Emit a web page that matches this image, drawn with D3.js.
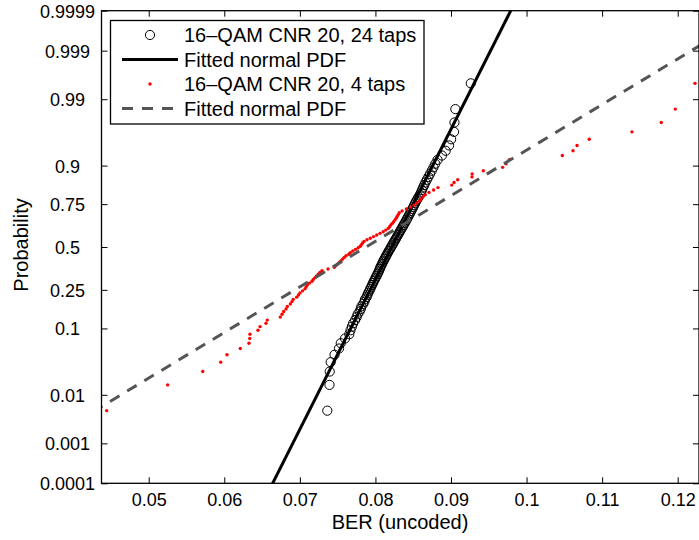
<!DOCTYPE html>
<html><head><meta charset="utf-8">
<script src="https://cdn.jsdelivr.net/npm/d3@7"></script>
<style>
html,body{margin:0;padding:0;background:#fff;}
svg text{font-family:"Liberation Sans",Arial,Helvetica,sans-serif;fill:#000;}
</style></head>
<body>
<svg id="chart" width="699" height="540"></svg>
<script>
// ---- data ----
// sorted BER samples, 16-QAM CNR 20, 24 taps
const ber24 = [0.07363,0.07392,0.07395,0.07408,0.07459,0.07518,0.07541,0.07598,0.07654,0.07670,
0.07688,0.07705,0.07731,0.07752,0.07765,0.07790,0.07806,0.07815,0.07838,0.07855,
0.07862,0.07884,0.07893,0.07905,0.07920,0.07931,0.07944,0.07955,0.07968,0.07978,
0.07992,0.08002,0.08016,0.08026,0.08038,0.08049,0.08058,0.08066,0.08077,0.08088,
0.08097,0.08108,0.08120,0.08132,0.08142,0.08154,0.08165,0.08177,0.08190,0.08202,
0.08214,0.08227,0.08238,0.08250,0.08262,0.08274,0.08286,0.08298,0.08311,0.08322,
0.08335,0.08347,0.08360,0.08372,0.08386,0.08398,0.08411,0.08423,0.08436,0.08449,
0.08461,0.08474,0.08487,0.08500,0.08512,0.08526,0.08540,0.08556,0.08572,0.08589,
0.08603,0.08616,0.08630,0.08645,0.08662,0.08680,0.08701,0.08722,0.08745,0.08768,
0.08792,0.08822,0.08880,0.08930,0.08975,0.09002,0.09040,0.09046,0.09058,0.09262];
// sorted BER samples, 16-QAM CNR 20, 4 taps
const ber4 = [0.04444,0.05251,0.05715,0.05953,0.06036,0.06212,0.06327,0.06337,0.06340,0.06446,
0.06473,0.06552,0.06569,0.06741,0.06764,0.06786,0.06817,0.06834,0.06874,0.06896,
0.06913,0.06958,0.06982,0.07002,0.07035,0.07068,0.07082,0.07099,0.07128,0.07161,
0.07178,0.07201,0.07220,0.07244,0.07267,0.07293,0.07373,0.07456,0.07478,0.07502,
0.07525,0.07545,0.07567,0.07588,0.07611,0.07648,0.07668,0.07701,0.07737,0.07772,
0.07800,0.07815,0.07829,0.07849,0.07889,0.07932,0.07975,0.08017,0.08061,0.08103,
0.08137,0.08169,0.08188,0.08204,0.08224,0.08241,0.08259,0.08274,0.08288,0.08302,
0.08316,0.08352,0.08409,0.08467,0.08511,0.08545,0.08583,0.08603,0.08630,0.08660,
0.08709,0.08770,0.08828,0.09010,0.09040,0.09089,0.09278,0.09280,0.09428,0.09684,
0.09728,0.09772,0.10473,0.10615,0.10668,0.10830,0.11395,0.11783,0.11968,0.12229];
// fitted normal distributions [mean, std]
const fit24 = [0.08215, 0.004235];
const fit4 = [0.07875, 0.013935];
const xTicks = [0.05,0.06,0.07,0.08,0.09,0.1,0.11,0.12];
const xTickLabels = ["0.05","0.06","0.07","0.08","0.09","0.1","0.11","0.12"];
const yTicks = [0.0001,0.001,0.01,0.1,0.25,0.5,0.75,0.9,0.99,0.999,0.9999];
const yTickLabels = ["0.0001","0.001","0.01","0.1","0.25","0.5","0.75","0.9","0.99","0.999","0.9999"];
const legendLabels = ["16\u2013QAM CNR 20, 24 taps","Fitted normal PDF","16\u2013QAM CNR 20, 4 taps","Fitted normal PDF"];
const xLabel = "BER (uncoded)", yLabel = "Probability";

// inverse normal CDF (probability-paper transform)
function probit(p){
  const a=[-3.969683028665376e+01,2.209460984245205e+02,-2.759285104469687e+02,1.383577518672690e+02,-3.066479806614716e+01,2.506628277459239e+00];
  const b=[-5.447609879822406e+01,1.615858368580409e+02,-1.556989798598866e+02,6.680131188771972e+01,-1.328068155288572e+01];
  const c=[-7.784894002430293e-03,-3.223964580411365e-01,-2.400758277161838e+00,-2.549732539343734e+00,4.374664141464968e+00,2.938163982698783e+00];
  const d=[7.784695709041462e-03,3.224671290700398e-01,2.445134137142996e+00,3.754408661907416e+00];
  const pl=0.02425, ph=1-pl; let q,r;
  if(p<pl){q=Math.sqrt(-2*Math.log(p));return (((((c[0]*q+c[1])*q+c[2])*q+c[3])*q+c[4])*q+c[5])/((((d[0]*q+d[1])*q+d[2])*q+d[3])*q+1);}
  if(p>ph){q=Math.sqrt(-2*Math.log(1-p));return -(((((c[0]*q+c[1])*q+c[2])*q+c[3])*q+c[4])*q+c[5])/((((d[0]*q+d[1])*q+d[2])*q+d[3])*q+1);}
  q=p-0.5;r=q*q;return (((((a[0]*r+a[1])*r+a[2])*r+a[3])*r+a[4])*r+a[5])*q/(((((b[0]*r+b[1])*r+b[2])*r+b[3])*r+b[4])*r+1);
}

// ---- layout ----
const L=101.5, R=699, T=10.7, B=483.3;
const svg = d3.select("#chart");
const x = d3.scaleLinear().domain([0.04375, 0.12282]).range([L, R]);
const zMin = probit(0.0001), zMax = probit(0.9999);
const yz = d3.scaleLinear().domain([zMin, zMax]).range([B, T]);
const y = p => yz(probit(p));

svg.append("defs").append("clipPath").attr("id","clip")
  .append("rect").attr("x",L).attr("y",T).attr("width",R-L).attr("height",B-T);

// axes
const gx = svg.append("g").attr("transform",`translate(0,${B})`)
  .call(d3.axisBottom(x).tickValues(xTicks).tickFormat((d,i)=>xTickLabels[i]).tickSize(-6).tickPadding(10));
gx.select(".domain").remove();
gx.selectAll(".tick line").attr("stroke","#000").attr("stroke-width",1);
gx.selectAll("text").attr("font-size",18).style("font-family","Liberation Sans, Arial, sans-serif");

const gxt = svg.append("g").attr("transform",`translate(0,${T})`)
  .call(d3.axisTop(x).tickValues(xTicks).tickFormat("").tickSize(-6));
gxt.select(".domain").remove();
gxt.selectAll(".tick line").attr("stroke","#000").attr("stroke-width",1);

const yTickZ = yTicks.map(probit);
const gy = svg.append("g").attr("transform",`translate(${L},0)`)
  .call(d3.axisLeft(yz).tickValues(yTickZ).tickFormat((d,i)=>yTickLabels[i]).tickSize(-6));
gy.select(".domain").remove();
gy.selectAll(".tick line").attr("stroke","#000").attr("stroke-width",1);
gy.selectAll("text").attr("font-size",18).attr("text-anchor","middle").attr("x",-(L-67.5)).attr("dy","0.36em")
  .style("font-family","Liberation Sans, Arial, sans-serif");

const gyr = svg.append("g").attr("transform",`translate(${R},0)`)
  .call(d3.axisRight(yz).tickValues(yTickZ).tickFormat("").tickSize(-6));
gyr.select(".domain").remove();
gyr.selectAll(".tick line").attr("stroke","#000").attr("stroke-width",1);

// data
const plot = svg.append("g").attr("clip-path","url(#clip)");
const pos = (arr) => arr.map((v,i)=>({v, p:(i+0.5)/arr.length}));

plot.append("g").selectAll("circle").data(pos(ber24)).join("circle")
  .attr("cx",d=>x(d.v)).attr("cy",d=>y(d.p)).attr("r",4.6)
  .attr("fill","none").attr("stroke","#000").attr("stroke-width",1);

const fitLine = d3.line().x(d=>x(d[0])).y(d=>yz(d[1]));
const fitPts = f => [zMin-0.5, zMax+0.5].map(z=>[f[0]+f[1]*z, z]);

plot.append("path").attr("d",fitLine(fitPts(fit24)))
  .attr("fill","none").attr("stroke","#000").attr("stroke-width",3);

plot.append("g").selectAll("circle").data(pos(ber4)).join("circle")
  .attr("cx",d=>x(d.v)).attr("cy",d=>y(d.p)).attr("r",1.7).attr("fill","#ff0000");

plot.append("path").attr("d",fitLine(fitPts(fit4)))
  .attr("fill","none").attr("stroke","#555").attr("stroke-width",3).attr("stroke-dasharray","11,9");

// border
svg.append("rect").attr("x",L).attr("y",T).attr("width",R-L).attr("height",B-T)
  .attr("fill","none").attr("stroke","#000").attr("stroke-width",1.3);

// axis labels
svg.append("text").attr("x",400).attr("y",529).attr("text-anchor","middle").attr("font-size",20).text(xLabel);
svg.append("text").attr("transform","translate(28,245) rotate(-90)").attr("text-anchor","middle").attr("font-size",20).text(yLabel);

// legend
const lg = svg.append("g");
lg.append("rect").attr("x",110.5).attr("y",20.5).attr("width",313.5).attr("height",103.5)
  .attr("fill","#fff").attr("stroke","#000").attr("stroke-width",1.3);
const rowY = [35, 59.5, 84, 108.5];
lg.append("circle").attr("cx",150).attr("cy",rowY[0]).attr("r",4.6).attr("fill","none").attr("stroke","#000").attr("stroke-width",1);
lg.append("line").attr("x1",122).attr("x2",178).attr("y1",rowY[1]).attr("y2",rowY[1]).attr("stroke","#000").attr("stroke-width",3);
lg.append("circle").attr("cx",150).attr("cy",rowY[2]).attr("r",1.7).attr("fill","#ff0000");
lg.append("line").attr("x1",122).attr("x2",178).attr("y1",rowY[3]).attr("y2",rowY[3]).attr("stroke","#555").attr("stroke-width",3).attr("stroke-dasharray","11,9");
lg.selectAll("text.lab").data(legendLabels).join("text").attr("class","lab")
  .attr("x",184).attr("y",(d,i)=>rowY[i]+7).attr("font-size",20).text(d=>d);
</script>
</body></html>
